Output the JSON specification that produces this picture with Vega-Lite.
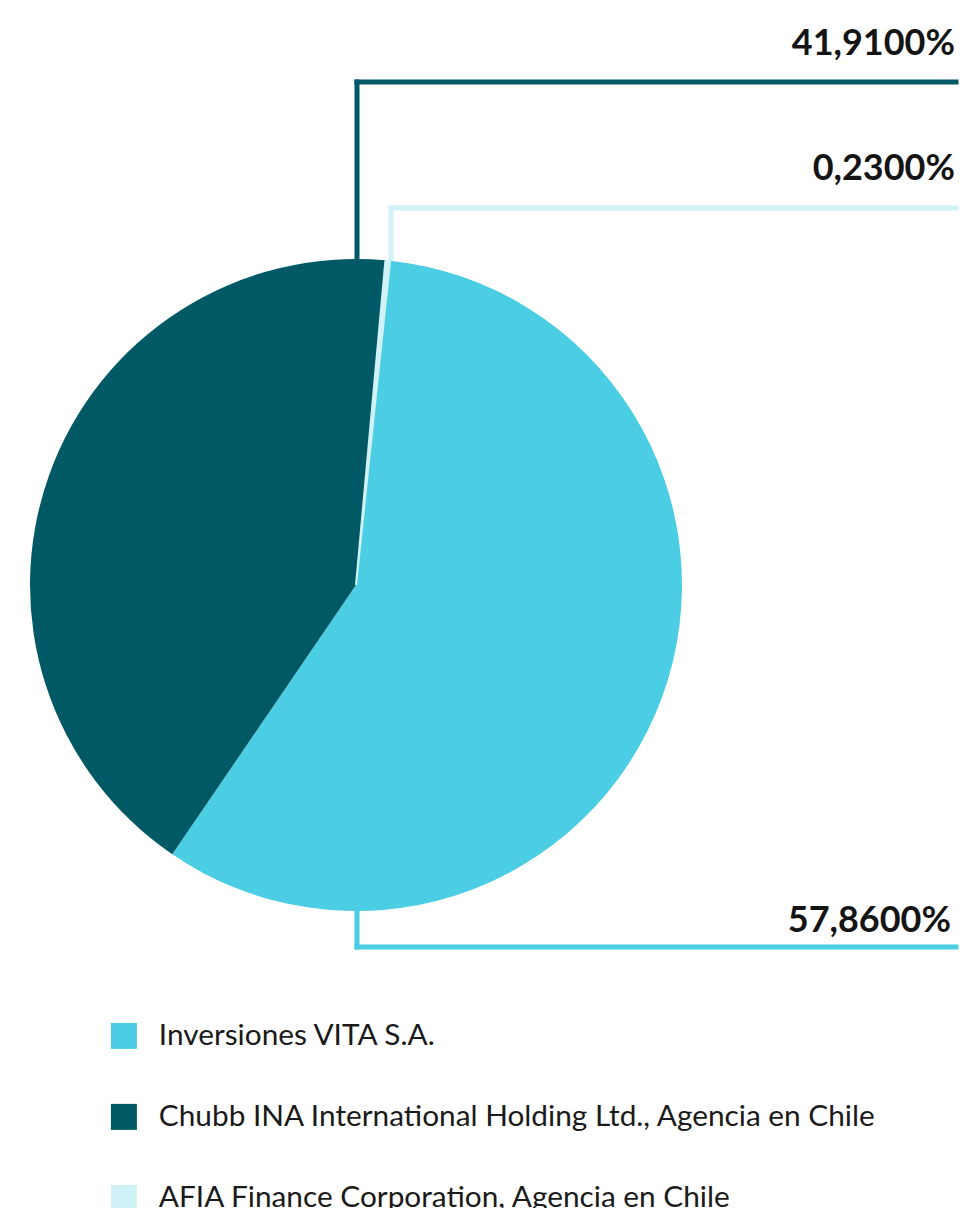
{
  "$schema": "https://vega.github.io/schema/vega-lite/v6.json",
  "width": 964,
  "height": 1208,
  "padding": 0,
  "autosize": {"type": "none"},
  "background": "#ffffff",
  "config": {
    "view": {"stroke": null},
    "locale": {"number": {"decimal": ",", "thousands": ".", "grouping": [3], "currency": ["", " €"]}},
    "legend": {
      "orient": "none",
      "legendX": 109,
      "legendY": 1021,
      "padding": 0,
      "symbolType": "square",
      "symbolSize": 676,
      "symbolStrokeWidth": 0,
      "labelFont": "Lato",
      "labelFontSize": 29.8,
      "labelColor": "#1a1a1a",
      "labelOffset": 20,
      "rowPadding": 50,
      "labelLimit": 900
    }
  },
  "data": {
    "values": [
      {"name": "Inversiones VITA S.A.", "share": 0.5786, "rank": 1},
      {"name": "Chubb INA International Holding Ltd., Agencia en Chile", "share": 0.4191, "rank": 2},
      {"name": "AFIA Finance Corporation, Agencia en Chile", "share": 0.0023, "rank": 3}
    ]
  },
  "encoding": {
    "color": {
      "field": "name",
      "type": "nominal",
      "scale": {
        "domain": ["Inversiones VITA S.A.", "Chubb INA International Holding Ltd., Agencia en Chile", "AFIA Finance Corporation, Agencia en Chile"],
        "range": ["#4bcde3", "#015966", "#d0f2f7"]
      },
      "legend": {"title": null}
    }
  },
  "layer": [
    {
      "transform": [{"filter": "datum.rank == 2"}],
      "mark": {"type": "rule", "strokeWidth": 5, "strokeCap": "square"},
      "encoding": {
        "x": {"datum": 357, "type": "quantitative", "scale": {"domain": [0, 964], "nice": false, "zero": false}, "axis": null},
        "y": {"datum": 82, "type": "quantitative", "scale": {"domain": [0, 1208], "nice": false, "zero": false, "reverse": true}, "axis": null},
        "y2": {"datum": 300}
      }
    },
    {
      "transform": [{"filter": "datum.rank == 2"}],
      "mark": {"type": "rule", "strokeWidth": 5, "strokeCap": "square"},
      "encoding": {
        "x": {"datum": 357, "type": "quantitative"},
        "x2": {"datum": 956},
        "y": {"datum": 82, "type": "quantitative"}
      }
    },
    {
      "transform": [{"filter": "datum.rank == 3"}],
      "mark": {"type": "rule", "strokeWidth": 5, "strokeCap": "square"},
      "encoding": {
        "x": {"datum": 391, "type": "quantitative"},
        "y": {"datum": 208, "type": "quantitative"},
        "y2": {"datum": 300}
      }
    },
    {
      "transform": [{"filter": "datum.rank == 3"}],
      "mark": {"type": "rule", "strokeWidth": 5, "strokeCap": "square"},
      "encoding": {
        "x": {"datum": 391, "type": "quantitative"},
        "x2": {"datum": 956},
        "y": {"datum": 208, "type": "quantitative"}
      }
    },
    {
      "transform": [{"filter": "datum.rank == 1"}],
      "mark": {"type": "rule", "strokeWidth": 5, "strokeCap": "square"},
      "encoding": {
        "x": {"datum": 357, "type": "quantitative"},
        "y": {"datum": 947, "type": "quantitative"},
        "y2": {"datum": 860}
      }
    },
    {
      "transform": [{"filter": "datum.rank == 1"}],
      "mark": {"type": "rule", "strokeWidth": 5, "strokeCap": "square"},
      "encoding": {
        "x": {"datum": 357, "type": "quantitative"},
        "x2": {"datum": 956},
        "y": {"datum": 947, "type": "quantitative"}
      }
    },
    {
      "mark": {"type": "arc", "outerRadius": 326, "stroke": null},
      "encoding": {
        "x": {"datum": 356, "type": "quantitative"},
        "y": {"datum": 585, "type": "quantitative"},
        "theta": {"field": "share", "type": "quantitative", "stack": true, "scale": {"range": [0.105, 6.388]}},
        "order": {"field": "rank", "type": "quantitative"}
      }
    },
    {
      "mark": {"type": "arc", "outerRadius": 325, "stroke": "#d0f2f7", "strokeJoin": "miter"},
      "encoding": {
        "x": {"datum": 356, "type": "quantitative"},
        "y": {"datum": 585, "type": "quantitative"},
        "theta": {"field": "share", "type": "quantitative", "stack": true},
        "order": {"field": "rank", "type": "quantitative"},
        "opacity": {"condition": {"test": "datum.rank == 3", "value": 1}, "value": 0},
        "strokeWidth": {"condition": {"test": "datum.rank == 3", "value": 2}, "value": 0}
      }
    },
    {
      "transform": [{"filter": "datum.rank == 2"}],
      "mark": {"type": "text", "align": "right", "baseline": "alphabetic", "font": "Lato", "fontWeight": "bold", "fontSize": 36},
      "encoding": {
        "x": {"datum": 955, "type": "quantitative"},
        "y": {"datum": 55, "type": "quantitative"},
        "text": {"field": "share", "type": "quantitative", "format": ".4%"},
        "color": {"value": "#141414"}
      }
    },
    {
      "transform": [{"filter": "datum.rank == 3"}],
      "mark": {"type": "text", "align": "right", "baseline": "alphabetic", "font": "Lato", "fontWeight": "bold", "fontSize": 36},
      "encoding": {
        "x": {"datum": 955, "type": "quantitative"},
        "y": {"datum": 180, "type": "quantitative"},
        "text": {"field": "share", "type": "quantitative", "format": ".4%"},
        "color": {"value": "#141414"}
      }
    },
    {
      "transform": [{"filter": "datum.rank == 1"}],
      "mark": {"type": "text", "align": "right", "baseline": "alphabetic", "font": "Lato", "fontWeight": "bold", "fontSize": 36},
      "encoding": {
        "x": {"datum": 951, "type": "quantitative"},
        "y": {"datum": 932, "type": "quantitative"},
        "text": {"field": "share", "type": "quantitative", "format": ".4%"},
        "color": {"value": "#141414"}
      }
    }
  ]
}
